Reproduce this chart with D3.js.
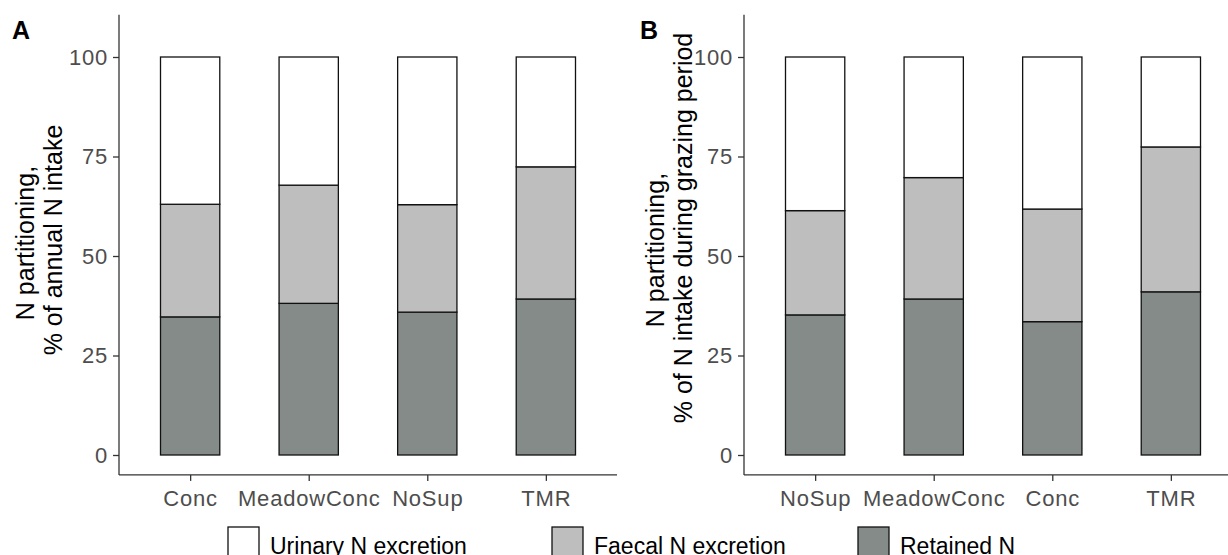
<!DOCTYPE html>
<html>
<head>
<meta charset="utf-8">
<script src="https://cdn.jsdelivr.net/npm/d3@7"></script>
<style>
  body { margin: 0; background: #fff; }
  svg { display: block; }
  text { font-family: "Liberation Sans", Arial, sans-serif; }
</style>
</head>
<body>
<svg id="chart" width="1228" height="555"></svg>
<script>
// partitioning categories, bottom to top
const components = ['Retained N', 'Faecal N excretion', 'Urinary N excretion'];
const legendOrder = ['Urinary N excretion', 'Faecal N excretion', 'Retained N'];
const fills = ['#848b89', '#bebebe', '#ffffff'];

// panel A: % of annual N intake
const dietsA = ['Conc', 'MeadowConc', 'NoSup', 'TMR'];
const retainedA = [34.7, 38.1, 35.9, 39.2];
const faecalA = [28.3, 29.7, 27.0, 33.2];
const urinaryA = [37.0, 32.2, 37.1, 27.6];

// panel B: % of N intake during grazing period
const dietsB = ['NoSup', 'MeadowConc', 'Conc', 'TMR'];
const retainedB = [35.2, 39.2, 33.5, 41.0];
const faecalB = [26.2, 30.5, 28.3, 36.4];
const urinaryB = [38.6, 30.3, 38.2, 22.6];

const yTicks = [0, 25, 50, 75, 100];

const svg = d3.select('#chart');

const y = d3.scaleLinear().domain([0, 100]).range([455, 57]);

function panel(opts) {
  const { diets, retained, faecal, urinary, left, right, tag, tagX, titles } = opts;
  const rows = diets.map((d, i) => ({
    diet: d,
    'Retained N': retained[i],
    'Faecal N excretion': faecal[i],
    'Urinary N excretion': urinary[i],
  }));
  const series = d3.stack().keys(components)(rows);

  const x = d3.scalePoint().domain(diets).range([left, right]).padding(0.6);
  const barW = x.step() * 0.5;

  const g = svg.append('g');

  g.append('g')
    .selectAll('g')
    .data(series)
    .join('g')
    .attr('fill', (d, i) => fills[i])
    .selectAll('rect')
    .data(d => d)
    .join('rect')
    .attr('x', d => x(d.data.diet) - barW / 2)
    .attr('y', d => y(d[1]))
    .attr('width', barW)
    .attr('height', d => y(d[0]) - y(d[1]))
    .attr('stroke', '#111')
    .attr('stroke-width', 1.3);

  // y axis
  const yAxis = g.append('g')
    .attr('transform', `translate(${left},0)`)
    .call(d3.axisLeft(y).tickValues(yTicks).tickSize(6).tickPadding(5).tickSizeOuter(0));
  yAxis.select('.domain').attr('d', `M0,${y(110.6)}V${y(-5)}`);

  // x axis
  const xAxis = g.append('g')
    .attr('transform', `translate(0,${y(-5)})`)
    .call(d3.axisBottom(x).tickSize(6).tickPadding(9).tickSizeOuter(0));
  xAxis.select('.domain').attr('d', `M${left},0H${right}`);

  g.selectAll('.domain').attr('stroke', '#333').attr('stroke-width', 1.3);
  g.selectAll('.tick line').attr('stroke', '#333').attr('stroke-width', 1.3);
  g.selectAll('.tick text')
    .attr('fill', '#4d4d4d')
    .attr('font-size', 22)
    .attr('font-family', '"Liberation Sans", Arial, sans-serif')
    .attr('letter-spacing', 0.8);

  // axis title, one text per line
  titles.forEach(t => {
    g.append('text')
      .attr('transform', `translate(${t.x},${t.y}) rotate(-90)`)
      .attr('text-anchor', 'middle')
      .attr('font-size', 25)
      .attr('fill', '#000')
      .text(t.text);
  });

  g.append('text')
    .attr('x', tagX)
    .attr('y', 39)
    .attr('font-weight', 'bold')
    .attr('font-size', 25)
    .text(tag);
}

panel({
  diets: dietsA, retained: retainedA, faecal: faecalA, urinary: urinaryA,
  left: 119, right: 617, tag: 'A', tagX: 12,
  titles: [
    { text: 'N partitioning,', x: 34, y: 243 },
    { text: '% of annual N intake', x: 62, y: 240 },
  ],
});

panel({
  diets: dietsB, retained: retainedB, faecal: faecalB, urinary: urinaryB,
  left: 744, right: 1242, tag: 'B', tagX: 640,
  titles: [
    { text: 'N partitioning,', x: 664, y: 250 },
    { text: '% of N intake during grazing period', x: 692, y: 228 },
  ],
});

// legend
const legendX = [228, 552, 858];
const legend = svg.append('g')
  .selectAll('g')
  .data(legendOrder)
  .join('g')
  .attr('transform', (d, i) => `translate(${legendX[i]},527)`);

legend.append('rect')
  .attr('width', 31)
  .attr('height', 31)
  .attr('fill', d => fills[components.indexOf(d)])
  .attr('stroke', '#111')
  .attr('stroke-width', 1.3);

legend.append('text')
  .attr('x', 42)
  .attr('y', 27)
  .attr('font-size', 23)
  .attr('fill', '#000')
  .text(d => d);
</script>
</body>
</html>
